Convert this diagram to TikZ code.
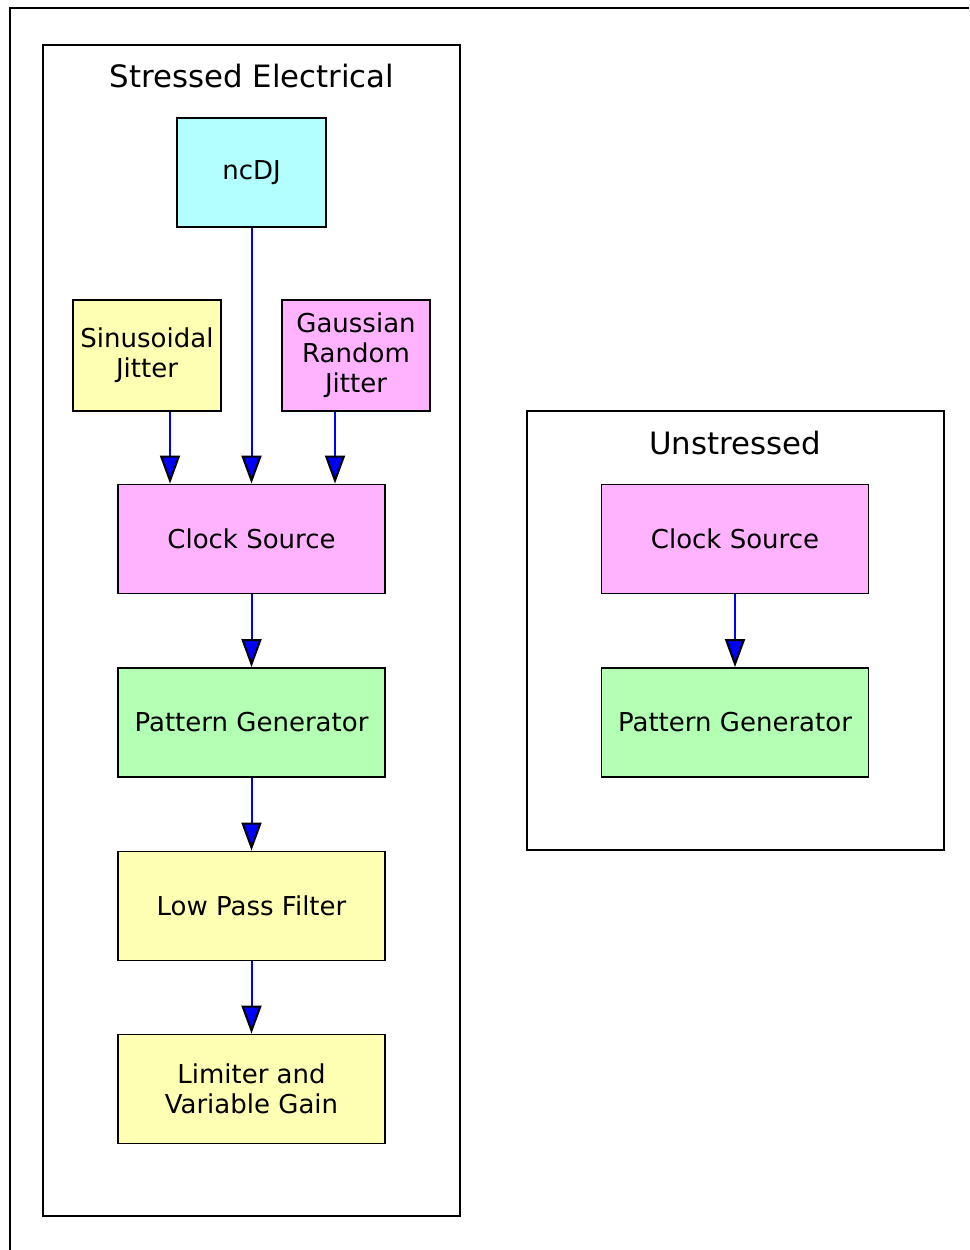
\documentclass[tikz,border=0pt]{standalone}
\usepackage{fontspec}
\setmainfont{DejaVu Sans}
\usetikzlibrary{arrows.meta,calc}
\definecolor{cyanfill}{HTML}{B3FFFF}
\definecolor{yellowfill}{HTML}{FFFFB3}
\definecolor{pinkfill}{HTML}{FFB3FF}
\definecolor{greenfill}{HTML}{B3FFB3}

\begin{document}
\begin{tikzpicture}[x=0.3mm,y=-0.3mm]
\tikzstyle{block}=[rectangle,draw=black,line width=0.55mm,inner sep=0pt,align=center,font=\fontsize{22.2}{25.6}\selectfont]
\tikzstyle{wideblock}=[block,minimum width=80.1mm,minimum height=32.7mm]
\tikzstyle{smallblock}=[block,minimum width=44.4mm,minimum height=33.3mm]
\tikzstyle{cluster}=[draw=black,line width=0.55mm]
\tikzstyle{clustertitle}=[inner sep=0pt,font=\fontsize{26.3}{30}\selectfont]
\tikzstyle{flow}=[draw=blue,line width=0.6mm,-{Triangle[length=8.4mm,width=6mm,color=black,fill=blue]}]
\useasboundingbox (0,0) rectangle (969,1250);
% outer frame
\draw[line width=0.55mm] (10,1250) -- (10,8) -- (969,8);
% clusters
\draw[cluster] (43,45) rectangle (460,1216);
\draw[cluster] (527,411) rectangle (944,850);
\node [clustertitle] (stitle) at (252,76) {Stressed Electrical};
\node [clustertitle] (utitle) at (735,443) {Unstressed};
% stressed electrical
\node [block,fill=cyanfill,minimum width=44.7mm,minimum height=32.7mm] (ncdj) at (251.5,172.5) {ncDJ};
\node [smallblock,fill=yellowfill] (sj) at (147,355.5) {Sinusoidal\\Jitter};
\node [smallblock,fill=pinkfill] (grj) at (356,355.5) {Gaussian\\Random\\Jitter};
\node [wideblock,fill=pinkfill] (cs) at (251.5,539) {Clock Source};
\node [wideblock,fill=greenfill] (pg) at (251.5,722.5) {Pattern Generator};
\node [wideblock,fill=yellowfill] (lpf) at (251.5,906) {Low Pass Filter};
\node [wideblock,fill=yellowfill] (lim) at (251.5,1089) {Limiter and\\Variable Gain};
% unstressed
\node [wideblock,fill=pinkfill] (ucs) at (735,539) {Clock Source};
\node [wideblock,fill=greenfill] (upg) at (735,722.5) {Pattern Generator};
% edges
\draw[flow] ($(sj.south)+(23,0)$) -- ($(cs.north)+(-81.5,0)$);
\draw[flow] (ncdj) -- (cs);
\draw[flow] ($(grj.south)+(-21,0)$) -- ($(cs.north)+(83.5,0)$);
\draw[flow] (cs) -- (pg);
\draw[flow] (pg) -- (lpf);
\draw[flow] (lpf) -- (lim);
\draw[flow] (ucs) -- (upg);
\end{tikzpicture}
\end{document}
